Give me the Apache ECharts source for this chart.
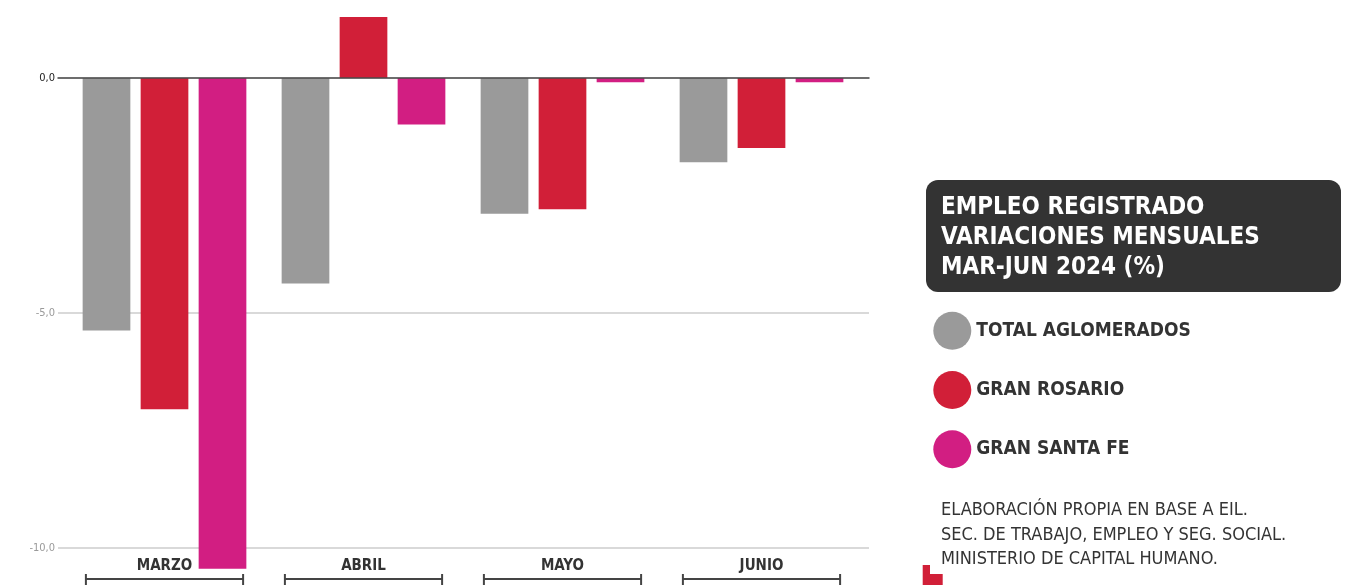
<!DOCTYPE html>
<html>
<head>
<meta charset="utf-8">
<title>Empleo registrado</title>
<script src="https://cdn.jsdelivr.net/npm/echarts@6/dist/echarts.min.js"></script>
<style>
  html, body { margin: 0; padding: 0; background: #fff; }
  #chart { width: 1347px; height: 585px; }
</style>
</head>
<body>
<div id="chart"></div>
<script>
// data
const months = ['MARZO', 'ABRIL', 'MAYO', 'JUNIO'];
const totalAglomerados = [-5.37, -4.37, -2.89, -1.79];
const granRosario = [-7.05, 1.30, -2.79, -1.49];
const granSantaFe = [-10.44, -0.99, -0.09, -0.09];
const yTicks = [-10, -5, 0];

const NARROW = '"Liberation Sans Narrow", "DejaVu Sans Condensed", sans-serif';
const colors = ['#9a9a9a', '#d11f38', '#d21e82'];

const chart = echarts.init(document.getElementById('chart'));

const barStyle = (name, data, color) => ({
  name: name,
  type: 'bar',
  xAxisIndex: 1,
  yAxisIndex: 1,
  data: data,
  barWidth: 47.7,
  barGap: '21.6%',
  clip: false,
  itemStyle: { color: color },
  z: 3,
});

chart.setOption({
  animation: false,
  textStyle: { fontFamily: NARROW },
  title: [
    {
      text: 'EMPLEO REGISTRADO\nVARIACIONES MENSUALES\nMAR-JUN 2024 (%)',
      left: 936,
      top: 188,
      padding: 5,
      textStyle: {
        color: '#fff',
        fontSize: 24,
        fontWeight: 'bold',
        fontFamily: NARROW,
        lineHeight: 30,
      },
      z: 10,
    },
    {
      text: 'ELABORACIÓN PROPIA EN BASE A EIL.\nSEC. DE TRABAJO, EMPLEO Y SEG. SOCIAL.\nMINISTERIO DE CAPITAL HUMANO.',
      left: 936,
      top: 493,
      padding: 5,
      textStyle: {
        color: '#333',
        fontSize: 18,
        fontWeight: 'normal',
        fontFamily: NARROW,
        lineHeight: 24.7,
      },
    },
  ],
  graphic: [
    {
      type: 'rect',
      left: 926,
      top: 180,
      shape: { width: 415, height: 112, r: 12 },
      style: { fill: '#333333' },
      z: 1,
    },
    {
      type: 'polygon',
      shape: {
        points: [[922.7, 565], [930, 565], [930, 574], [942.7, 574], [942.7, 585], [922.7, 585]],
      },
      style: { fill: '#d11f38' },
    },
  ],
  legend: {
    data: ['TOTAL AGLOMERADOS', 'GRAN ROSARIO', 'GRAN SANTA FE'],
    orient: 'vertical',
    left: 928.3,
    top: 306.7,
    icon: 'circle',
    itemWidth: 38,
    itemHeight: 38,
    itemGap: 21.3,
    itemStyle: { borderWidth: 0 },
    textStyle: {
      color: '#333',
      fontSize: 19,
      fontWeight: 'bold',
      fontFamily: NARROW,
    },
    selectedMode: false,
  },
  grid: [
    { left: 58, top: 78, width: 811, bottom: 37 },
    { left: 65, top: 78, width: 796, bottom: 37 },
  ],
  xAxis: [
    {
      type: 'category',
      gridIndex: 0,
      data: months,
      axisLine: { onZero: true, lineStyle: { color: '#4a4a4a', width: 1.5 } },
      axisTick: { show: false },
      axisLabel: { show: false },
      z: 4,
    },
    {
      type: 'category',
      gridIndex: 1,
      data: months,
      axisLine: { show: false },
      axisTick: { show: false },
      axisLabel: {
        margin: 11,
        color: '#333',
        fontSize: 15,
        fontWeight: 'bold',
        fontFamily: NARROW,
      },
    },
  ],
  yAxis: [
    {
      type: 'value',
      gridIndex: 0,
      min: yTicks[0],
      max: yTicks[yTicks.length - 1],
      interval: 5,
      axisLine: { show: false },
      axisTick: { show: false },
      axisLabel: {
        margin: 3,
        fontSize: 11,
        fontFamily: NARROW,
        formatter: (v) => v.toFixed(1).replace('.', ','),
        color: (v) => (Number(v) === 0 ? '#222' : '#9a9a9a'),
      },
      splitLine: { lineStyle: { color: '#d9d9d9', width: 2 } },
    },
    {
      type: 'value',
      gridIndex: 1,
      min: yTicks[0],
      max: yTicks[yTicks.length - 1],
      interval: 5,
      show: false,
      splitLine: { show: false },
    },
  ],
  series: [
    barStyle('TOTAL AGLOMERADOS', totalAglomerados, colors[0]),
    barStyle('GRAN ROSARIO', granRosario, colors[1]),
    barStyle('GRAN SANTA FE', granSantaFe, colors[2]),
    {
      // brackets under each month
      type: 'custom',
      xAxisIndex: 1,
      yAxisIndex: 1,
      silent: true,
      clip: false,
      data: months.map((m, i) => [i, yTicks[0]]),
      renderItem: (params, api) => {
        const c = api.coord([api.value(0), api.value(1)]);
        const half = api.size([1, 0])[0] * 0.395;
        const y = c[1] + 31;
        const st = { stroke: '#444', lineWidth: 2 };
        return {
          type: 'group',
          children: [
            { type: 'line', shape: { x1: c[0] - half, y1: y, x2: c[0] + half, y2: y }, style: st },
            { type: 'line', shape: { x1: c[0] - half, y1: y - 5, x2: c[0] - half, y2: y + 6 }, style: st },
            { type: 'line', shape: { x1: c[0] + half, y1: y - 5, x2: c[0] + half, y2: y + 6 }, style: st },
          ],
        };
      },
    },
  ],
});
</script>
</body>
</html>
